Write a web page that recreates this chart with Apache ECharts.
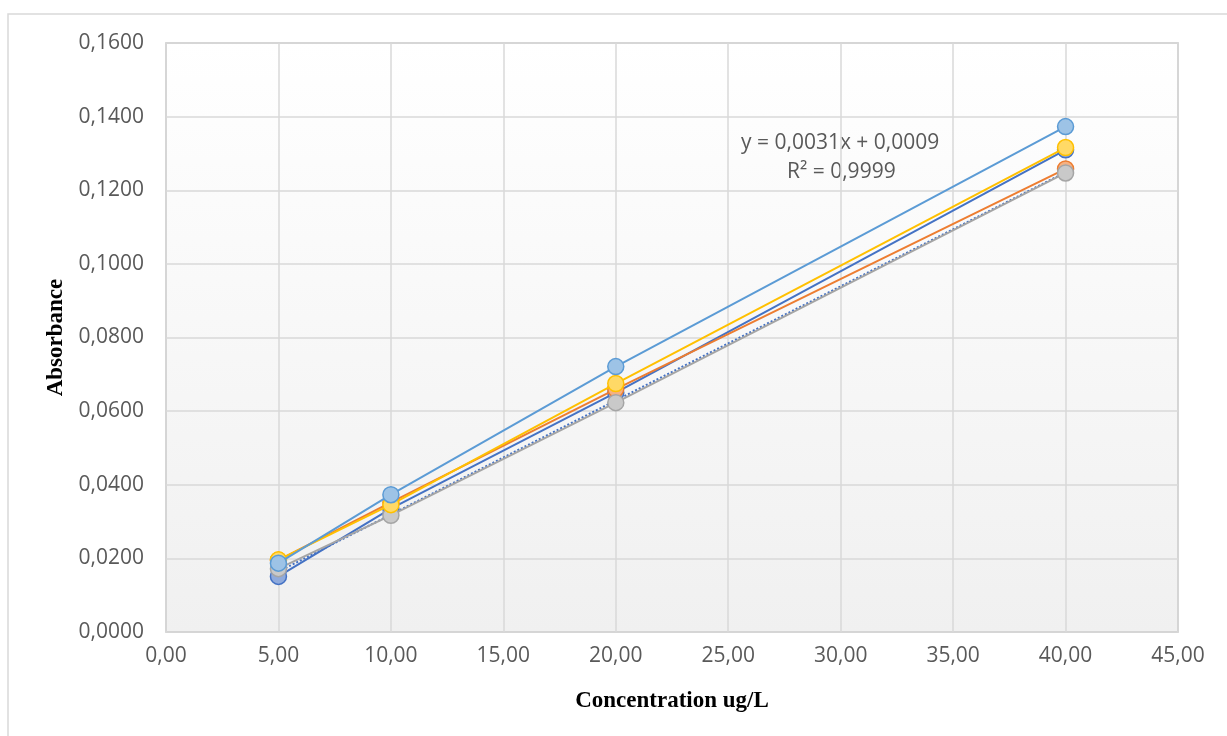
<!DOCTYPE html>
<html>
<head>
<meta charset="utf-8">
<title>Absorbance</title>
<script src="https://cdn.jsdelivr.net/npm/echarts@6/dist/echarts.min.js"></script>
<style>
  html, body { margin: 0; padding: 0; background: #fff; }
  #chart { width: 1227px; height: 736px; }
</style>
</head>
<body>
<div id="chart"></div>
<script>
// concentrations (ug/L)
var conc = [5, 10, 20, 40];

// absorbance, one array per run (excel default accent order)
var run1 = [0.0151, 0.0335, 0.0650, 0.1310];
var run2 = [0.0195, 0.0352, 0.0660, 0.1258];
var run3 = [0.0172, 0.0317, 0.0623, 0.1247];
var run4 = [0.0196, 0.0346, 0.0675, 0.1316];
var run5 = [0.0187, 0.0373, 0.0721, 0.1373];

// linear trendline end points
var trendX = [5, 40];
var trendY = [0.0164, 0.1249];

var eqLines = ['y = 0,0031x + 0,0009', 'R² = 0,9999'];

var colors = ['#4472C4', '#ED7D31', '#A5A5A5', '#FFC000', '#5B9BD5'];
var fills = ['#8FAADC', '#F4B183', '#C9C9C9', '#FFD966', '#9DC3E6'];

function pairs (xs, ys) {
  return xs.map(function (x, i) { return [x, ys[i]] })
}

function runSeries (name, ys, i) {
  return {
    name: name,
    type: 'line',
    data: pairs(conc, ys),
    symbol: 'circle',
    symbolSize: 16,
    lineStyle: { color: colors[i], width: 2 },
    itemStyle: { color: fills[i], borderColor: colors[i], borderWidth: 1.5 },
    z: 2 + i
  }
}

var myChart = echarts.init(document.getElementById('chart'))

var labelFont = '"Open Sans", sans-serif'

var option = {
  animation: false,
  graphic: [{
    type: 'rect',
    shape: { x: 8, y: 14, width: 1240, height: 740 },
    style: { fill: 'none', stroke: '#d9d9d9', lineWidth: 1.5 },
    z: 0
  }, {
    type: 'text',
    left: 741,
    top: 133,
    style: { text: eqLines[0], fill: '#595959', font: '21px ' + labelFont }
  }, {
    type: 'text',
    left: 787,
    top: 162,
    style: { text: eqLines[1], fill: '#595959', font: '21px ' + labelFont }
  }],
  grid: {
    left: 166,
    right: 49,
    top: 43,
    bottom: 104,
    show: true,
    borderColor: '#bfbfbf',
    borderWidth: 1.5,
    backgroundColor: new echarts.graphic.LinearGradient(0, 0, 0, 1, [
      { offset: 0, color: '#ffffff' },
      { offset: 1, color: '#f0f0f0' }
    ])
  },
  xAxis: {
    type: 'value',
    min: 0,
    max: 45,
    interval: 5,
    name: 'Concentration ug/L',
    nameLocation: 'middle',
    nameGap: 58,
    nameTextStyle: {
      fontFamily: '"Liberation Serif", serif',
      fontWeight: 'bold',
      fontSize: 23,
      color: '#000'
    },
    axisLine: { show: false },
    axisTick: { show: false },
    axisLabel: {
      color: '#595959',
      fontSize: 21,
      fontFamily: labelFont,
      margin: 14,
      formatter: function (v) { return v.toFixed(2).replace('.', ',') }
    },
    splitLine: { lineStyle: { color: '#d9d9d9', width: 1.5 } }
  },
  yAxis: {
    type: 'value',
    min: 0,
    max: 0.16,
    interval: 0.02,
    name: 'Absorbance',
    nameLocation: 'middle',
    nameGap: 94,
    nameTextStyle: {
      fontFamily: '"Liberation Serif", serif',
      fontWeight: 'bold',
      fontSize: 23,
      color: '#000'
    },
    axisLine: { show: false },
    axisTick: { show: false },
    axisLabel: {
      color: '#595959',
      fontSize: 21,
      fontFamily: labelFont,
      margin: 22,
      formatter: function (v) { return v.toFixed(4).replace('.', ',') }
    },
    splitLine: { lineStyle: { color: '#d9d9d9', width: 1.5 } }
  },
  series: [
    runSeries('1', run1, 0),
    {
      name: 'trend',
      type: 'line',
      data: pairs(trendX, trendY),
      symbol: 'none',
      lineStyle: { color: '#4472C4', width: 2, type: [2, 2] },
      z: 2
    },
    runSeries('2', run2, 1),
    runSeries('3', run3, 2),
    runSeries('4', run4, 3),
    runSeries('5', run5, 4)
  ]
}

myChart.setOption(option)
</script>
</body>
</html>
